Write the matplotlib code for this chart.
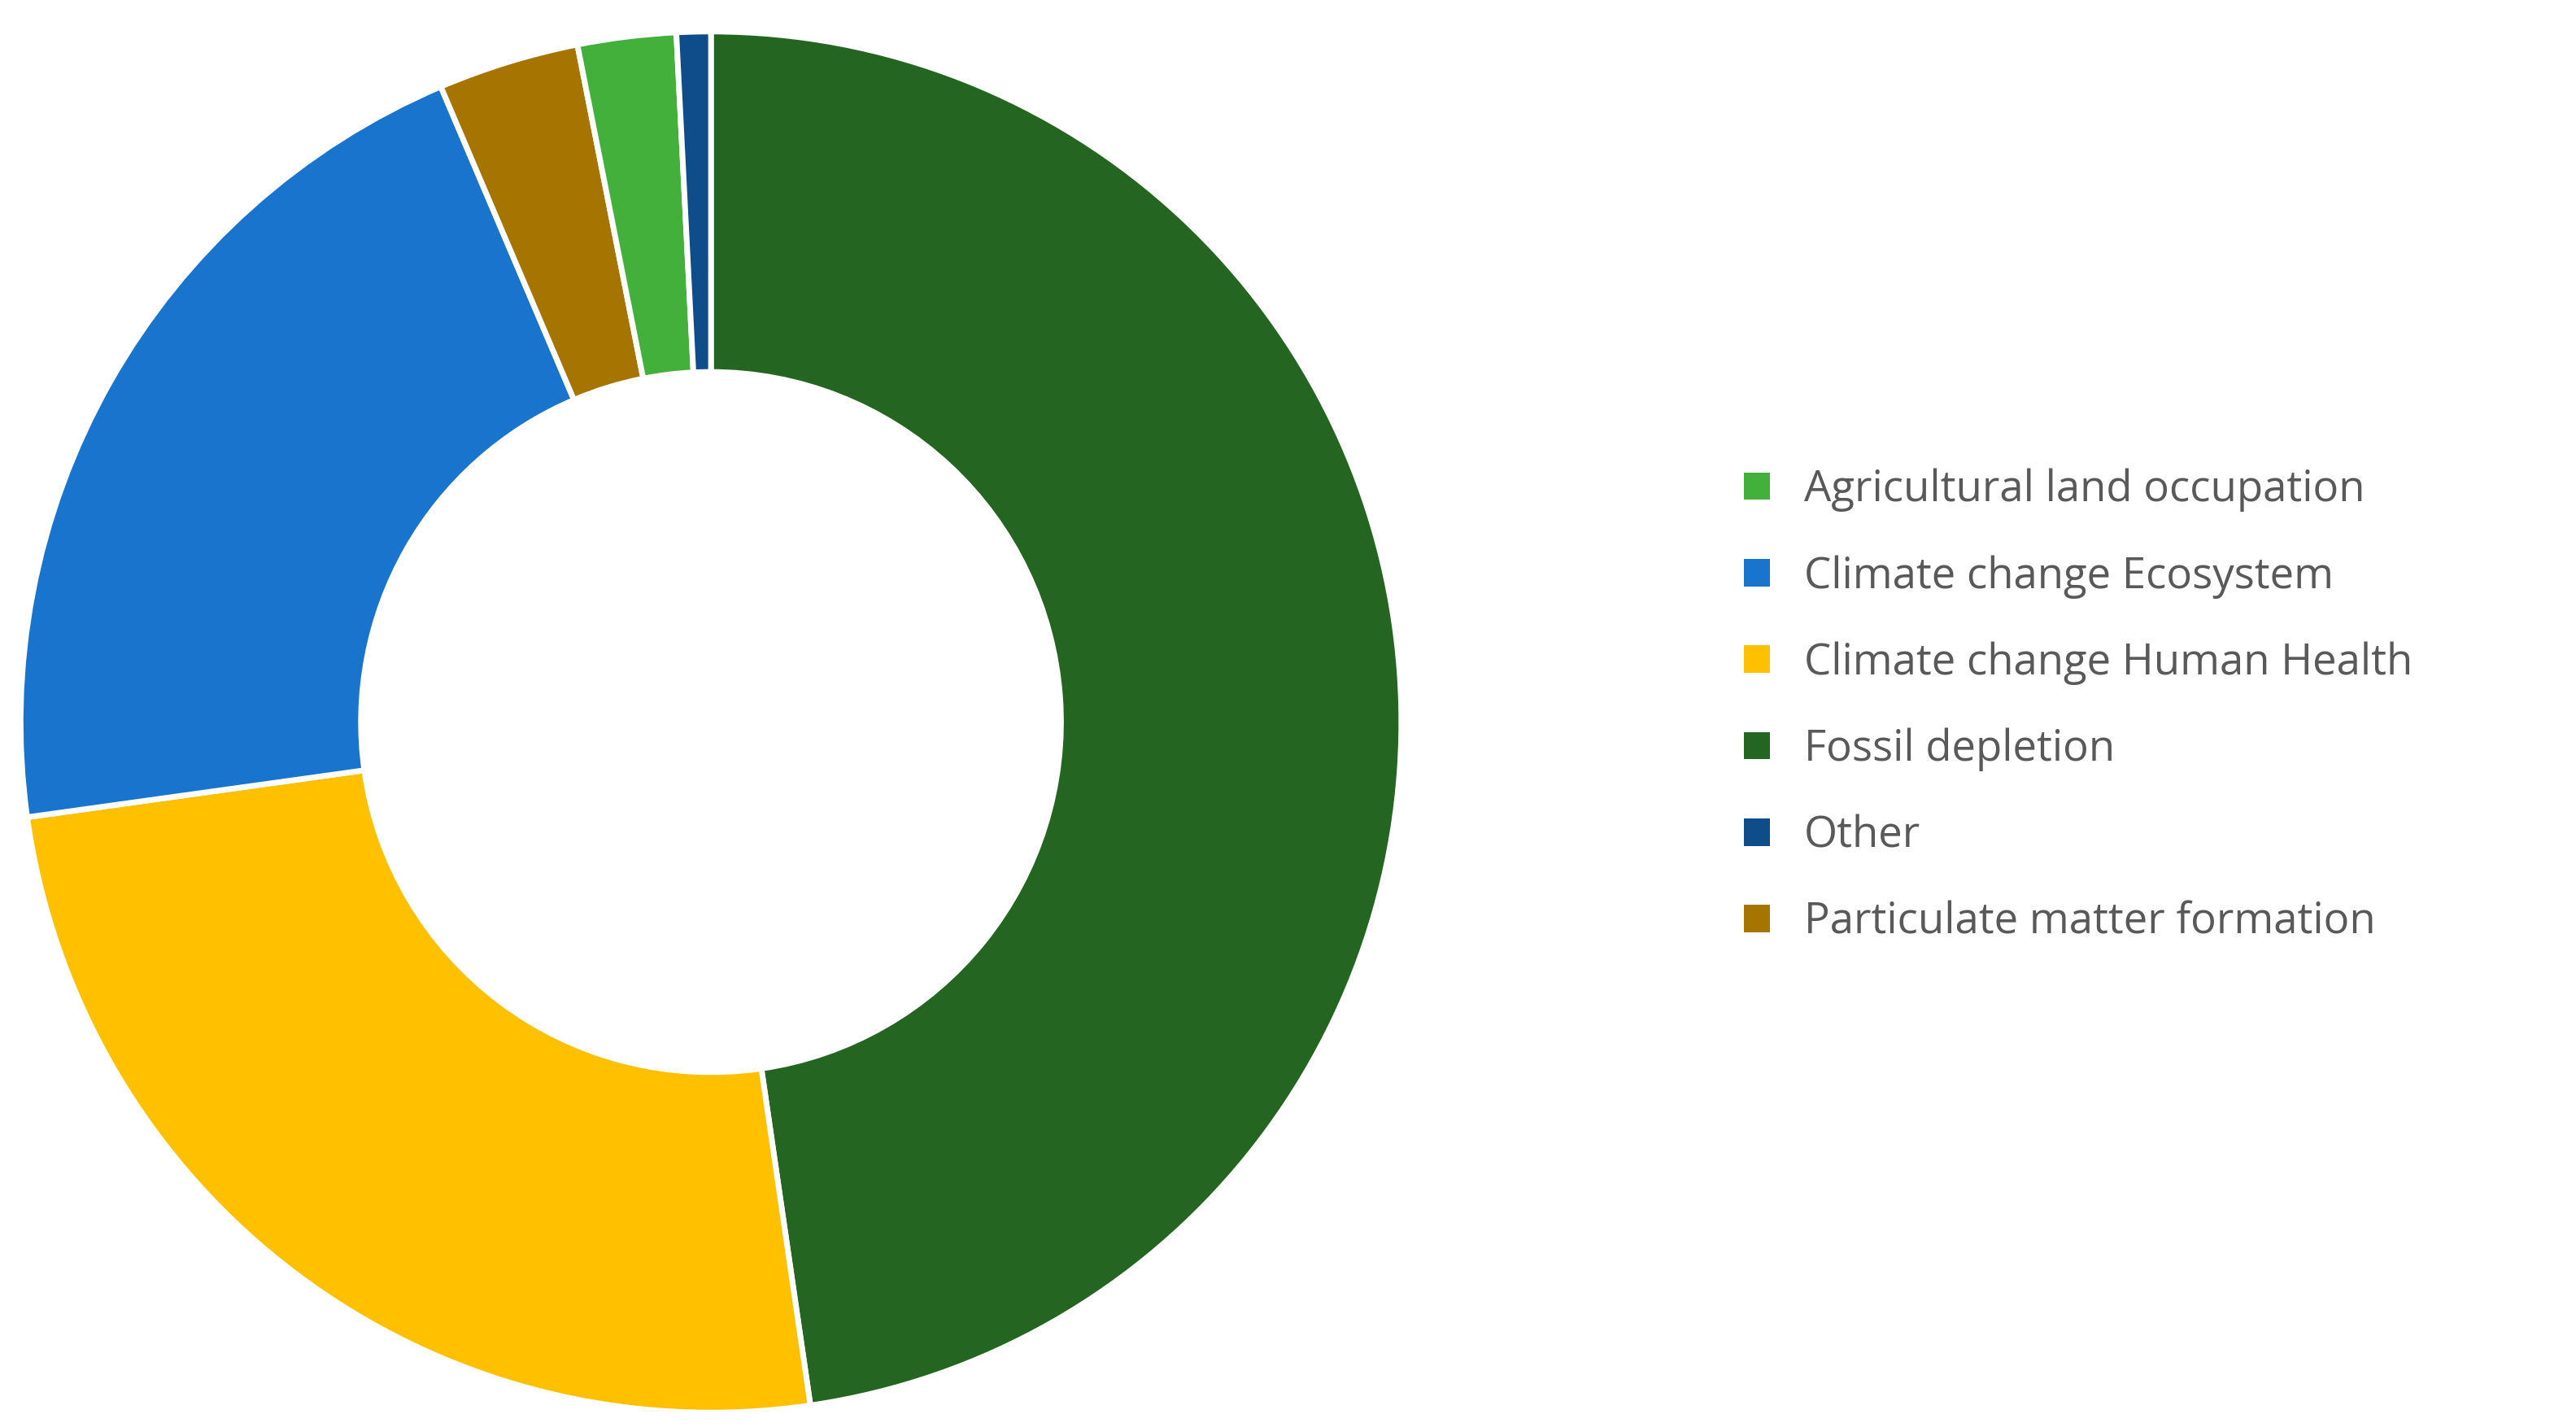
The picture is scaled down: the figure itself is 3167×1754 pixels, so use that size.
import matplotlib.pyplot as plt
from matplotlib.patches import Patch

# wedge order: clockwise from 12 o'clock
wedge_labels = ["Fossil depletion", "Climate change Human Health", "Climate change Ecosystem",
                "Particulate matter formation", "Agricultural land occupation", "Other"]
wedge_values = [47.7, 25.1, 20.8, 3.3, 2.3, 0.8]
colors = {
    "Agricultural land occupation": "#43B03C",
    "Climate change Ecosystem": "#1874CD",
    "Climate change Human Health": "#FFC000",
    "Fossil depletion": "#246521",
    "Other": "#0E4C8A",
    "Particulate matter formation": "#A67400",
}
legend_order = sorted(colors.keys())

plt.rcParams['font.family'] = ['Open Sans', 'DejaVu Sans']
fig = plt.figure(figsize=(31.67, 17.54), dpi=100)
ax = fig.add_axes([0.008, 0.010, 0.536, 0.968])
ax.pie(wedge_values, colors=[colors[l] for l in wedge_labels], startangle=90, counterclock=False,
       wedgeprops=dict(width=0.493, edgecolor="white", linewidth=5))
ax.set_aspect("equal")
ax.set_xlim(-1.0, 1.0)
ax.set_ylim(-1.0, 1.0)

handles = [Patch(facecolor=colors[l], edgecolor="none") for l in legend_order]
leg = fig.legend(handles, legend_order, loc="center left", bbox_to_anchor=(0.662, 0.505),
                 frameon=False, fontsize=38, labelspacing=1.0, handlelength=0.6, handleheight=0.6,
                 handletextpad=0.8, labelcolor="#595959")
fig.savefig("out.png")
